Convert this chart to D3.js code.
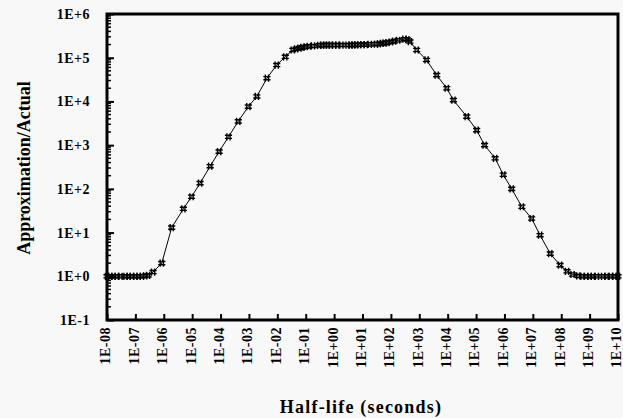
<!DOCTYPE html>
<html>
<head>
<meta charset="utf-8">
<script src="https://cdn.jsdelivr.net/npm/d3@7"></script>
<style>
  body { margin: 0; background: #f8f8f8; }
  svg { display: block; font-family: "Liberation Serif", "Times New Roman", serif; }
  .axis text { font-family: "Liberation Serif", "Times New Roman", serif; font-size: 14px; font-weight: bold; fill: #000; letter-spacing: 0.5px; }
  .axis path, .axis line { stroke: #000; }
</style>
</head>
<body>
<svg id="chart"></svg>
<script>
// half-life (seconds) and approximation/actual ratio
var halfLife = [
  1.0e-8, 1.3e-8, 1.7e-8, 2.2e-8, 3.0e-8, 4.5e-8, 5.8e-8, 7.5e-8,
  1.0e-7, 1.3e-7, 1.7e-7, 2.2e-7, 2.8e-7, 4.2e-7, 8.5e-7,
  1.9e-6, 4.9e-6, 9.5e-6, 1.9e-5, 4.3e-5, 8.9e-5, 1.9e-4, 4.2e-4, 9.5e-4,
  1.9e-3, 4.3e-3, 9.5e-3, 1.9e-2, 3.5e-2, 4.6e-2,
  0.060, 0.076, 0.10, 0.13, 0.18, 0.30, 0.38, 0.48, 0.60, 0.76,
  1.0, 1.3, 1.8, 3.0, 3.8, 4.8, 6.0, 7.6,
  10, 13, 18, 30, 38, 48, 60, 76,
  100, 130, 180, 300, 380,
  4.7e2, 8.1e2, 1.8e3, 4.1e3, 9.3e3, 1.6e4, 4.7e4, 1.05e5, 2.0e5, 4.7e5,
  9.1e5, 1.8e6, 4.1e6, 9.1e6, 1.8e7, 4.1e7, 9.1e7, 1.6e8, 2.5e8, 4.0e8,
  5.6e8, 7.5e8, 1.0e9, 1.3e9, 1.8e9, 3.0e9, 4.0e9, 5.6e9, 7.5e9, 1.0e10
];
var ratio = [
  1.0, 1.0, 1.0, 1.0, 1.0, 1.0, 1.0, 1.0,
  1.0, 1.0, 1.0, 1.02, 1.05, 1.25, 2.0,
  13, 35, 66, 135, 330, 710, 1550, 3500, 7600,
  13000, 34000, 68000, 105000, 150000, 160000,
  166000, 172000, 178000, 183000, 186000, 192000, 195000, 195000, 195000, 195000,
  195000, 195000, 195000, 195000, 195000, 196000, 197000, 198000,
  199000, 200000, 202000, 205000, 208000, 212000, 216000, 222000,
  229000, 240000, 251000, 265000, 260000,
  234000, 150000, 89000, 40000, 20000, 10700, 4500, 2200, 1000, 500,
  210, 100, 39, 21, 8.7, 3.3, 1.8, 1.3, 1.1, 1.02,
  1.0, 1.0, 1.0, 1.0, 1.0, 1.0, 1.0, 1.0, 1.0, 1.0
];
var xTicks = [1e-8, 1e-7, 1e-6, 1e-5, 1e-4, 1e-3, 1e-2, 1e-1, 1e0,
  1e1, 1e2, 1e3, 1e4, 1e5, 1e6, 1e7, 1e8, 1e9, 1e10];
var yTicks = [1e-1, 1e0, 1e1, 1e2, 1e3, 1e4, 1e5, 1e6];

var W = 623, H = 418;
var margin = { top: 14, right: 5, bottom: 98, left: 107 };

var chart = d3.select("#chart").attr("width", W).attr("height", H);

var x = d3.scaleLog()
    .domain([1e-8, 1e10])
    .range([margin.left, W - margin.right]);

var y = d3.scaleLog()
    .domain([1e-1, 1e6])
    .range([H - margin.bottom, margin.top]);

function expLabel(d, pad) {
    var e = Math.round(Math.log10(d));
    var s = String(Math.abs(e));
    if (pad && s.length < 2) s = "0" + s;
    return "1E" + (e < 0 ? "-" : "+") + s;
}

// minor ticks on the y axis (2..9 in every decade)
var yMinor = [];
yTicks.slice(0, -1).forEach(function(d) {
    for (var k = 2; k <= 9; k++) yMinor.push(d * k);
});

chart.append("g")
    .attr("class", "axis")
    .selectAll("line")
    .data(yMinor)
    .enter().append("line")
    .attr("x1", margin.left)
    .attr("x2", margin.left + 4)
    .attr("y1", function(d) { return y(d); })
    .attr("y2", function(d) { return y(d); })
    .attr("stroke-width", 1.5);

var yAxis = d3.axisLeft(y)
    .tickValues(yTicks)
    .tickSize(-7)
    .tickPadding(17)
    .tickFormat(function(d) { return expLabel(d, false); });

chart.append("g")
    .attr("class", "axis y")
    .attr("transform", "translate(" + margin.left + ",0)")
    .call(yAxis)
    .call(function(g) {
        g.select(".domain").remove();
        g.selectAll(".tick line").attr("stroke-width", 2);
    });

var xAxis = d3.axisBottom(x)
    .tickValues(xTicks)
    .tickSize(-6)
    .tickFormat(function(d) { return expLabel(d, true); });

chart.append("g")
    .attr("class", "axis x")
    .attr("transform", "translate(0," + (H - margin.bottom) + ")")
    .call(xAxis)
    .call(function(g) {
        g.select(".domain").remove();
        g.selectAll(".tick line").attr("stroke-width", 2);
        g.selectAll(".tick text")
            .attr("transform", "rotate(-90)")
            .attr("x", -7)
            .attr("y", -2)
            .attr("dy", "0.35em")
            .style("text-anchor", "end");
    });

// frame
chart.append("rect")
    .attr("x", margin.left)
    .attr("y", margin.top)
    .attr("width", W - margin.right - margin.left)
    .attr("height", H - margin.bottom - margin.top)
    .attr("fill", "none")
    .attr("stroke", "#000")
    .attr("stroke-width", 3);

var data = halfLife.map(function(d, i) { return { t: d, r: ratio[i] }; });

var line = d3.line()
    .x(function(d) { return x(d.t); })
    .y(function(d) { return y(d.r); });

chart.append("path")
    .datum(data)
    .attr("d", line)
    .attr("fill", "none")
    .attr("stroke", "#000")
    .attr("stroke-width", 1);

// hash shaped markers
var mark = "M-1.6,-3.6V3.6M1.6,-3.6V3.6M-3.6,-1.6H3.6M-3.6,1.6H3.6";

chart.selectAll(".pt")
    .data(data)
    .enter().append("path")
    .attr("class", "pt")
    .attr("transform", function(d) {
        return "translate(" + x(d.t) + "," + y(d.r) + ")";
    })
    .attr("d", mark)
    .attr("fill", "none")
    .attr("stroke", "#000")
    .attr("stroke-width", 1.4);

chart.append("text")
    .attr("transform", "translate(30," + 168 + ") rotate(-90)")
    .style("text-anchor", "middle")
    .style("font-size", "18px")
    .style("font-weight", "bold")
    .text("Approximation/Actual");

chart.append("text")
    .attr("x", 361)
    .attr("y", 413)
    .style("text-anchor", "middle")
    .style("font-size", "18px")
    .style("font-weight", "bold")
    .style("letter-spacing", "1.2px")
    .text("Half-life (seconds)");
</script>
</body>
</html>
